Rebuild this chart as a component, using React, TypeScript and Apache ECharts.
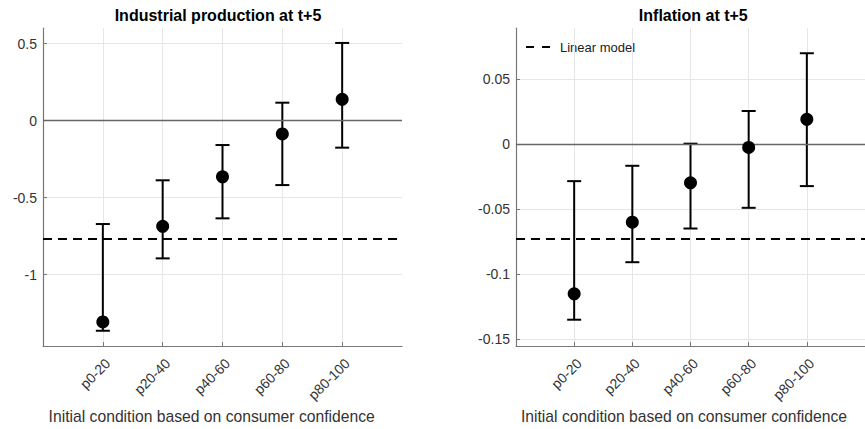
import React, { useEffect, useRef } from "react";
import * as echarts from "echarts";

const categories = ["p0-20", "p20-40", "p40-60", "p60-80", "p80-100"];

// Industrial production at t+5
const ipPoint = [-1.307, -0.686, -0.364, -0.086, 0.139];
const ipLow = [-1.364, -0.894, -0.634, -0.418, -0.175];
const ipHigh = [-0.671, -0.387, -0.158, 0.117, 0.505];
const ipLinear = -0.768;
const ipTicks = [-1, -0.5, 0, 0.5];
const ipRange = [-1.463, 0.602];

// Inflation at t+5
const infPoint = [-0.1151, -0.06, -0.0298, -0.0026, 0.019];
const infLow = [-0.135, -0.0908, -0.0649, -0.049, -0.0323];
const infHigh = [-0.0285, -0.0167, 0.0003, 0.0254, 0.0698];
const infLinear = -0.0731;
const infTicks = [-0.15, -0.1, -0.05, 0, 0.05];
const infRange = [-0.1552, 0.0892];

const titles = ["Industrial production at t+5", "Inflation at t+5"];
const xAxisTitle = "Initial condition based on consumer confidence";
const legendLabel = "Linear model";

const FONT = "'Liberation Sans', Arial, Helvetica, sans-serif";

export default function App() {
  const ref = useRef<HTMLDivElement>(null);

  useEffect(() => {
    if (!ref.current) return;
    const chart = echarts.init(ref.current, undefined, { renderer: "svg" });
    const xData = ["", ...categories, ""];
    const inner = (idx: number) => idx > 0 && idx < xData.length - 1;

    const makeX = (gi: number) => ({
      type: "category",
      gridIndex: gi,
      data: xData,
      boundaryGap: false,
      axisLine: { onZero: false, lineStyle: { color: "#777", width: 1.2 } },
      axisTick: { show: true, inside: true, length: 4, interval: (i: number) => inner(i), lineStyle: { color: "#777" } },
      axisLabel: {
        interval: (i: number) => inner(i),
        rotate: 45,
        margin: 10,
        verticalAlign: "top",
        color: "#333",
        fontSize: 14,
        fontFamily: FONT,
      },
      splitLine: { show: true, interval: (i: number) => inner(i), lineStyle: { color: "#e6e6e6", width: 1 } },
    });

    const makeY = (gi: number, range: number[], ticks: number[]) => ({
      type: "value",
      gridIndex: gi,
      min: range[0],
      max: range[1],
      axisLine: { show: true, lineStyle: { color: "#777", width: 1.2 } },
      axisTick: { show: true, inside: true, length: 4, customValues: ticks, lineStyle: { color: "#777" } },
      axisLabel: { customValues: ticks, color: "#333", fontSize: 14, fontFamily: FONT, margin: 6 },
      splitLine: { show: true, lineStyle: { color: "#e6e6e6", width: 1 } },
    });

    const errSeries = (gi: number, low: number[], high: number[], linear: number) => ({
      type: "custom",
      xAxisIndex: gi,
      yAxisIndex: gi,
      z: 3,
      data: categories.map((c, i) => [c, low[i], high[i]]),
      encode: { x: 0, y: [1, 2] },
      renderItem: (params: any, api: any) => {
        const x = api.value(0);
        const pl = api.coord([x, api.value(1)]);
        const ph = api.coord([x, api.value(2)]);
        const hw = 7;
        const st = { stroke: "#000", lineWidth: 2 };
        return {
          type: "group",
          children: [
            { type: "line", shape: { x1: pl[0], y1: pl[1], x2: ph[0], y2: ph[1] }, style: st },
            { type: "line", shape: { x1: pl[0] - hw, y1: pl[1], x2: pl[0] + hw, y2: pl[1] }, style: st },
            { type: "line", shape: { x1: ph[0] - hw, y1: ph[1], x2: ph[0] + hw, y2: ph[1] }, style: st },
          ],
        };
      },
      markLine: {
        silent: true,
        symbol: "none",
        precision: 6,
        label: { show: false },
        data: [
          { yAxis: 0, lineStyle: { color: "#666", width: 1.4, type: "solid" } },
          { yAxis: linear, lineStyle: { color: "#000", width: 2, type: [9, 6] } },
        ],
      },
    });

    const ptSeries = (gi: number, pts: number[]) => ({
      type: "scatter",
      xAxisIndex: gi,
      yAxisIndex: gi,
      z: 5,
      symbol: "circle",
      symbolSize: 13,
      itemStyle: { color: "#000", opacity: 1 },
      data: categories.map((c, i) => [c, pts[i]]),
    });

    const option: any = {
      animation: false,
      grid: [
        { left: 43, top: 28, width: 359, height: 318 },
        { left: 516, top: 28, width: 359, height: 318 },
      ],
      xAxis: [makeX(0), makeX(1)],
      yAxis: [makeY(0, ipRange, ipTicks), makeY(1, infRange, infTicks)],
      series: [
        errSeries(0, ipLow, ipHigh, ipLinear),
        ptSeries(0, ipPoint),
        errSeries(1, infLow, infHigh, infLinear),
        ptSeries(1, infPoint),
      ],
      graphic: [
        {
          type: "text",
          x: 218,
          y: 15.3,
          style: { text: titles[0], font: `bold 16px ${FONT}`, fill: "#000", align: "center", verticalAlign: "middle" },
        },
        {
          type: "text",
          x: 693.3,
          y: 15.3,
          style: { text: titles[1], font: `bold 16px ${FONT}`, fill: "#000", align: "center", verticalAlign: "middle" },
        },
        {
          type: "text",
          x: 211.7,
          y: 416,
          style: { text: xAxisTitle, font: `15.7px ${FONT}`, fill: "#333", align: "center", verticalAlign: "middle" },
        },
        {
          type: "text",
          x: 684,
          y: 416,
          style: { text: xAxisTitle, font: `15.7px ${FONT}`, fill: "#333", align: "center", verticalAlign: "middle" },
        },
        {
          type: "line",
          shape: { x1: 526, y1: 47, x2: 550, y2: 47 },
          style: { stroke: "#000", lineWidth: 2, lineDash: [8, 8] },
        },
        {
          type: "text",
          x: 560,
          y: 47,
          style: { text: legendLabel, font: `13px ${FONT}`, fill: "#222", align: "left", verticalAlign: "middle" },
        },
      ],
    };
    chart.setOption(option);
    return () => chart.dispose();
  }, []);

  return (
    <div
      ref={ref}
      style={{ position: "fixed", left: 0, top: 0, width: 865, height: 429, background: "#fff" }}
    />
  );
}
